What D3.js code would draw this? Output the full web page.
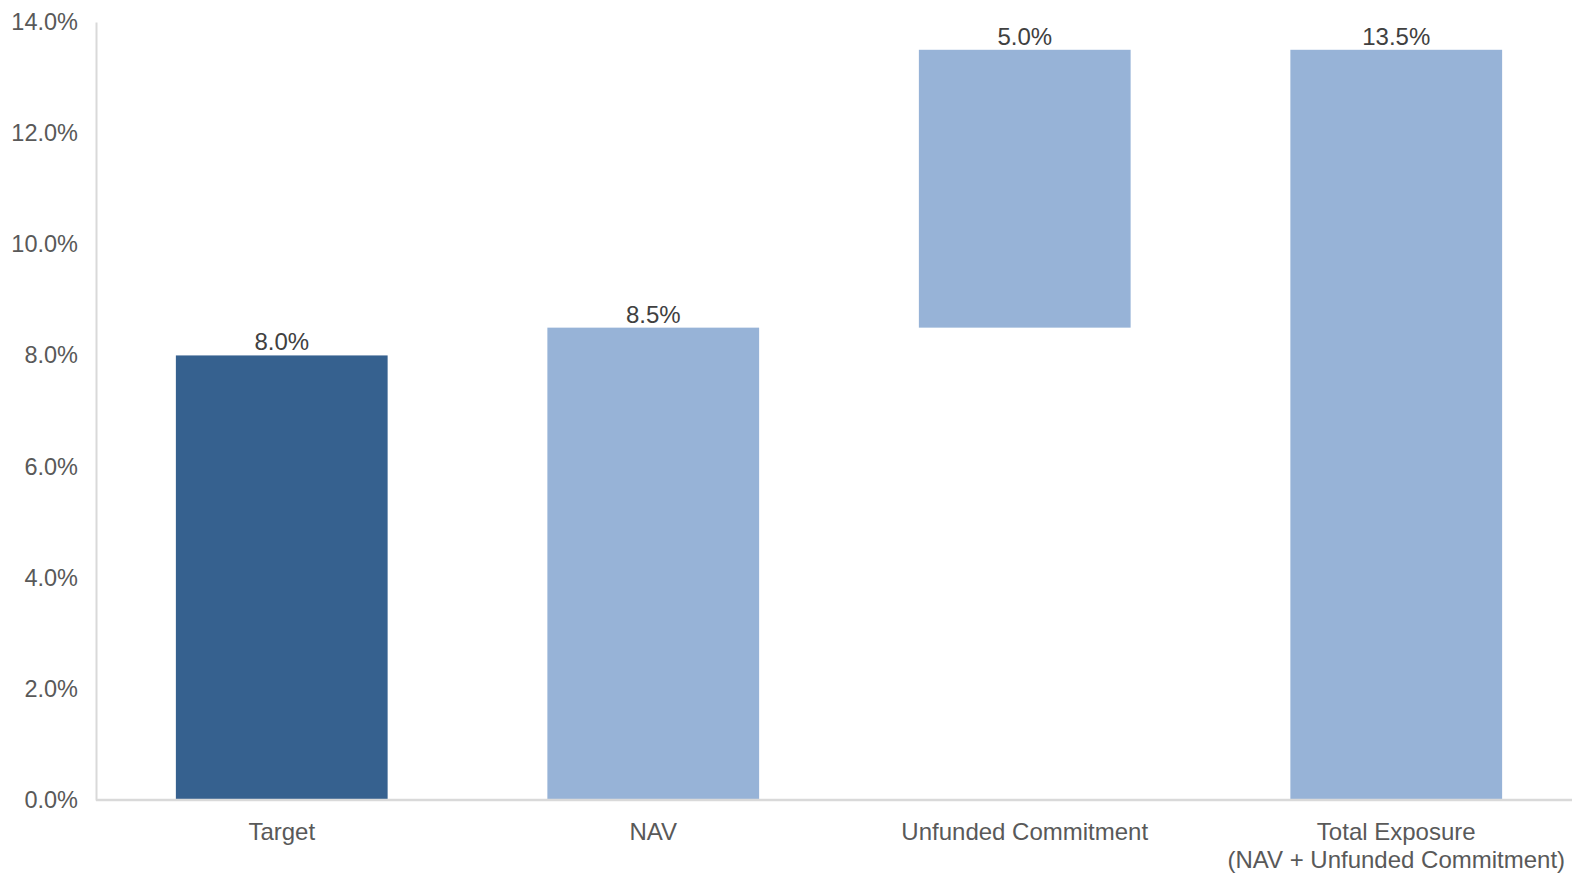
<!DOCTYPE html>
<html><head><meta charset="utf-8">
<script src="https://cdn.jsdelivr.net/npm/d3@7"></script>
<style>body{margin:0;background:#fff}svg{display:block}text{font-family:"Liberation Sans",Arial,sans-serif}</style>
</head><body>
<svg id="c" width="1572" height="874"></svg>
<script>
const categories = ["Target", "NAV", "Unfunded Commitment", "Total Exposure\n(NAV + Unfunded Commitment)"];
const bases = [0, 0, 8.5, 0];
const values = [8.0, 8.5, 5.0, 13.5];
const colors = ["#36618f", "#97b3d7", "#97b3d7", "#97b3d7"];
const yTicks = [0, 2, 4, 6, 8, 10, 12, 14];

const svg = d3.select("#c");
const x = d3.scaleBand().domain(categories).range([96, 1582]).paddingInner(0.43).paddingOuter(0.215);
const y = d3.scaleLinear().domain([0, 14]).range([800, 22]);

// y axis
const ya = svg.append("g").attr("transform", "translate(96,0)")
  .call(d3.axisLeft(y).tickValues(yTicks).tickFormat(d => d.toFixed(1) + "%").tickSize(0).tickPadding(18));
ya.select(".domain").attr("stroke", "#d9d9d9").attr("stroke-width", 2);
ya.selectAll("text").attr("font-size", 23.5).attr("fill", "#595959").attr("font-family", "Liberation Sans, Arial, sans-serif");

// bars
svg.append("g").selectAll("rect").data(categories).join("rect")
  .attr("x", d => x(d))
  .attr("width", x.bandwidth())
  .attr("y", (d, i) => y(bases[i] + values[i]))
  .attr("height", (d, i) => y(bases[i]) - y(bases[i] + values[i]))
  .attr("fill", (d, i) => colors[i]);

// x axis
const xa = svg.append("g").attr("transform", "translate(0,800)")
  .call(d3.axisBottom(x).tickSize(0).tickFormat(""));
xa.select(".domain").attr("stroke", "#d9d9d9").attr("stroke-width", 2.5).attr("d", "M96,0H1572");
const labG = svg.append("g");
categories.forEach(c => {
  const lines = c.split("\n");
  lines.forEach((l, j) => {
    labG.append("text").attr("x", x(c) + x.bandwidth() / 2).attr("y", 840 + j * 28)
      .attr("text-anchor", "middle").attr("font-size", 24).attr("fill", "#595959").text(l);
  });
});

// data labels
svg.append("g").selectAll("text").data(categories).join("text")
  .attr("x", d => x(d) + x.bandwidth() / 2)
  .attr("y", (d, i) => y(bases[i] + values[i]) - 5)
  .attr("text-anchor", "middle").attr("font-size", 24).attr("fill", "#404040")
  .text((d, i) => values[i].toFixed(1) + "%");
</script>
</body></html>
